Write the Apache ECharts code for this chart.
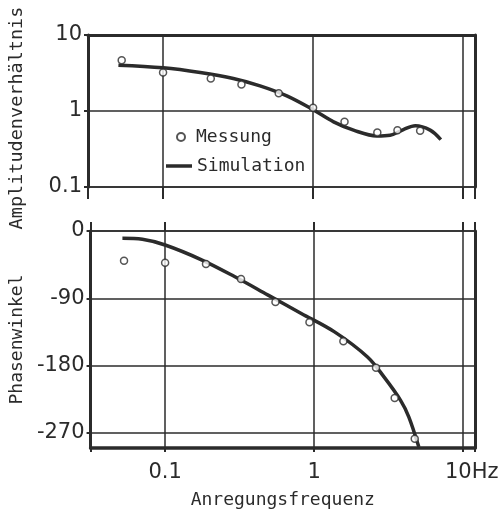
<!DOCTYPE html>
<html>
<head>
<meta charset="utf-8">
<script src="https://cdn.jsdelivr.net/npm/echarts@6/dist/echarts.min.js"></script>
<style>
html,body{margin:0;padding:0;background:#fff;}
#c{width:504px;height:510px;}
</style>
</head>
<body>
<div id="c"></div>
<script>
// ---- data ----
const ampFreq = [0.053, 0.1, 0.208, 0.333, 0.59, 1.0, 1.62, 2.68, 3.65, 5.17];
const ampMeas = [4.66, 3.21, 2.68, 2.23, 1.71, 1.10, 0.72, 0.52, 0.56, 0.55];
const ampSimFreq = [0.0504, 0.1, 0.177, 0.294, 0.443, 0.668, 1.0, 1.37, 1.86, 2.66, 3.26, 4.0, 4.8, 6.03, 7.1];
const ampSim = [4.0, 3.70, 3.21, 2.68, 2.14, 1.58, 1.04, 0.72, 0.56, 0.47, 0.48, 0.57, 0.64, 0.56, 0.42];
const phaseFreq = [0.053, 0.1, 0.188, 0.323, 0.55, 0.93, 1.57, 2.6, 3.47, 4.73];
const phaseMeas = [-39.7, -42.4, -44.2, -64.3, -95, -121.8, -147.3, -182.6, -223.2, -277.6];
const phaseSimFreq = [0.0517, 0.0703, 0.1, 0.177, 0.294, 0.491, 0.819, 1.37, 2.28, 2.94, 3.8, 4.32, 5.04];
const phaseSim = [-9.8, -11.1, -18.7, -38.8, -61.2, -85.7, -110.2, -134.8, -168.3, -195, -226.3, -248.6, -288.8];
const ampTicks = [0.1, 1, 10];
const phaseTicks = [0, -90, -180, -270];
const freqTickLabels = {'-1': '0.1', '0': '1', '1': '{p|}10Hz'};
const names = {meas: 'Messung', sim: 'Simulation', amp: 'Amplitudenverhältnis', phase: 'Phasenwinkel', freq: 'Anregungsfrequenz'};

const ink = '#2b2b2b';
const monoFont = "'DejaVu Sans Mono', monospace";
const tickFont = "'DejaVu Sans', sans-serif";
const fMin = 0.0316, fMax = 12;

function pairs(xs, ys) { return xs.map((x, i) => [x, ys[i]]); }
function decadeLabel(v) {
  const k = Math.round(Math.log10(v) * 1000) / 1000;
  if (Math.abs(k - Math.round(k)) > 0.01) return '';
  const s = String(Math.round(k));
  return freqTickLabels[s] || '';
}

const chart = echarts.init(document.getElementById('c'), null, {renderer: 'canvas'});
const hidden = {show: false};
const option = {
  animation: false,
  backgroundColor: '#fff',
  grid: [
    {left: 88, right: 29, top: 35, height: 152},
    {left: 88, right: 29, top: 231, height: 217}
  ],
  legend: [
    {
      data: [{name: names.meas, icon: 'circle'}],
      left: 171, top: 123, itemWidth: 8, itemHeight: 8,
      textStyle: {fontFamily: monoFont, fontSize: 18, color: ink, padding: [0, 0, 0, 6]},
      selectedMode: false
    },
    {
      data: [{name: names.sim, icon: 'rect'}],
      left: 161, top: 152, itemWidth: 26, itemHeight: 3.5,
      textStyle: {fontFamily: monoFont, fontSize: 18, color: ink},
      selectedMode: false
    }
  ],
  xAxis: [
    { // top panel bottom (0.1 line), ticks hang down
      gridIndex: 0, type: 'log', logBase: 10, min: fMin, max: fMax, position: 'bottom',
      axisLine: {onZero: false, lineStyle: {color: ink, width: 1.5}},
      axisTick: {show: true, inside: false, length: 12, lineStyle: {color: ink, width: 2}},
      axisLabel: hidden,
      splitLine: {show: true, lineStyle: {color: ink, width: 1.5}},
      minorTick: hidden, minorSplitLine: hidden
    },
    { // top panel top border
      gridIndex: 0, type: 'log', logBase: 10, min: fMin, max: fMax, position: 'top',
      axisLine: {onZero: false, lineStyle: {color: ink, width: 3}},
      axisTick: hidden, axisLabel: hidden, splitLine: hidden
    },
    { // bottom panel bottom border with labels
      gridIndex: 1, type: 'log', logBase: 10, min: fMin, max: fMax, position: 'bottom',
      name: names.freq, nameLocation: 'middle', nameGap: 43,
      nameTextStyle: {fontFamily: monoFont, fontSize: 18, color: ink},
      axisLine: {onZero: false, lineStyle: {color: ink, width: 3.5}},
      axisTick: {show: true, inside: false, length: 4, lineStyle: {color: ink, width: 2}},
      axisLabel: {
        show: true, margin: 14, fontFamily: tickFont, fontSize: 21, color: ink,
        formatter: decadeLabel,
        rich: {p: {width: 17}}
      },
      splitLine: {show: true, lineStyle: {color: ink, width: 1.5}}
    },
    { // bottom panel top (0 line), ticks stick up
      gridIndex: 1, type: 'log', logBase: 10, min: fMin, max: fMax, position: 'top',
      axisLine: {onZero: false, lineStyle: {color: ink, width: 1.5}},
      axisTick: {show: true, inside: false, length: 9, lineStyle: {color: ink, width: 2}},
      axisLabel: hidden, splitLine: hidden
    }
  ],
  yAxis: [
    {
      gridIndex: 0, type: 'log', logBase: 10, min: 0.1, max: 10, position: 'left',
      name: names.amp, nameLocation: 'middle', nameGap: 61, nameRotate: 90,
      nameTextStyle: {fontFamily: monoFont, fontSize: 18.5, color: ink, padding: [0, 14, 0, 0]},
      axisLine: {onZero: false, lineStyle: {color: ink, width: 3}},
      axisTick: {show: true, inside: false, length: 4, lineStyle: {color: ink, width: 2}},
      axisLabel: {
        show: true, margin: 6, fontFamily: tickFont, fontSize: 21, color: ink,
        formatter: v => { const k = Math.round(Math.log10(v)); return k === 1 ? '10' : k === 0 ? '1' : '0.1'; }
      },
      splitLine: {show: true, lineStyle: {color: ink, width: 1.5}}
    },
    {
      gridIndex: 0, type: 'log', logBase: 10, min: 0.1, max: 10, position: 'right',
      axisLine: {onZero: false, lineStyle: {color: ink, width: 3}},
      axisTick: hidden, axisLabel: hidden, splitLine: hidden
    },
    {
      gridIndex: 1, type: 'value', min: -290, max: 0, position: 'left',
      name: names.phase, nameLocation: 'middle', nameGap: 61, nameRotate: 90,
      nameTextStyle: {fontFamily: monoFont, fontSize: 18, color: ink},
      axisLine: {onZero: false, lineStyle: {color: ink, width: 3}},
      axisTick: {show: true, inside: false, length: 4, customValues: phaseTicks, lineStyle: {color: ink, width: 2}},
      axisLabel: {show: true, margin: 6, customValues: phaseTicks, fontFamily: tickFont, fontSize: 21, color: ink},
      splitLine: {show: true, lineStyle: {color: ink, width: 1.5}}
    },
    {
      gridIndex: 1, type: 'value', min: -290, max: 0, position: 'right',
      axisLine: {onZero: false, lineStyle: {color: ink, width: 3}},
      axisTick: hidden, axisLabel: hidden, splitLine: hidden
    }
  ],
  series: [
    {
      name: names.sim, type: 'line', xAxisIndex: 0, yAxisIndex: 0,
      data: pairs(ampSimFreq, ampSim), smooth: 0.35, symbol: 'none',
      lineStyle: {color: ink, width: 3.5}, itemStyle: {color: ink}, z: 2
    },
    {
      name: names.meas, type: 'scatter', xAxisIndex: 0, yAxisIndex: 0,
      data: pairs(ampFreq, ampMeas), symbol: 'circle', symbolSize: 7,
      itemStyle: {color: '#fff', borderColor: ink, borderWidth: 1.5}, z: 3
    },
    {
      name: names.sim, type: 'line', xAxisIndex: 2, yAxisIndex: 2,
      data: pairs(phaseSimFreq, phaseSim), smooth: 0.35, symbol: 'none',
      lineStyle: {color: ink, width: 3.5}, itemStyle: {color: ink}, z: 2
    },
    {
      name: names.meas, type: 'scatter', xAxisIndex: 2, yAxisIndex: 2,
      data: pairs(phaseFreq, phaseMeas), symbol: 'circle', symbolSize: 7,
      itemStyle: {color: '#fff', borderColor: ink, borderWidth: 1.5}, z: 3
    }
  ]
};
chart.setOption(option);
</script>
</body>
</html>
